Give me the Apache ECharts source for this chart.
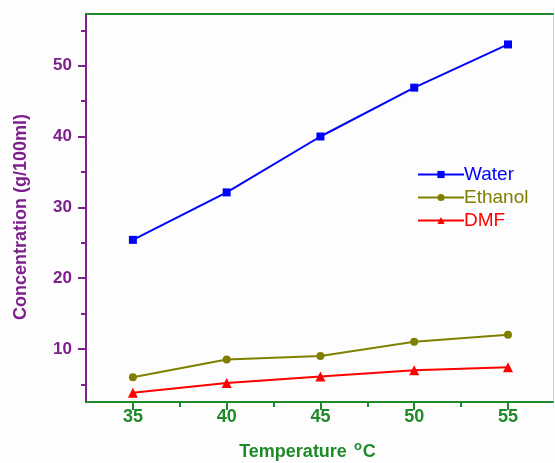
<!DOCTYPE html>
<html><head><meta charset="utf-8">
<script src="https://cdn.jsdelivr.net/npm/echarts@6/dist/echarts.min.js"></script>
<style>html,body{margin:0;padding:0;background:#fdfdfd}#c{width:555px;height:463px}</style>
</head><body><div id="c"></div>
<script>
const temperatures = [35, 40, 45, 50, 55];
const water = [25.4, 32.1, 40, 46.9, 53];
const ethanol = [6.0, 8.5, 9.0, 11.0, 12.0];
const dmf = [3.8, 5.2, 6.1, 7.0, 7.4];
const xMajorTicks = [35, 40, 45, 50, 55];
const xMinorTicks = [37.5, 42.5, 47.5, 52.5];
const yMajorTicks = [10, 20, 30, 40, 50];
const yMinorTicks = [5, 15, 25, 35, 45, 55];

const PURPLE = '#7d1f8c', GREEN = '#1f8a2a';
const FONT = 'Liberation Sans';
const pairs = a => temperatures.map((t, i) => [t, a[i]]);

const chart = echarts.init(document.getElementById('c'), null, {renderer: 'canvas'});
const xBase = {type: 'value', min: 32.5, max: 57.4, position: 'bottom', splitLine: {show: false}};
const yBase = {type: 'value', min: 2.5, max: 57.3, position: 'left', splitLine: {show: false}};
chart.setOption({
  backgroundColor: '#fdfdfd',
  animation: false,
  grid: {left: 86, top: 14, right: 2, bottom: 61, containLabel: false, outerBoundsMode: 'none'},
  xAxis: [
    Object.assign({}, xBase, {
      name: 'Temperature {sup|o}C', nameLocation: 'middle', nameGap: 38,
      nameTextStyle: {color: GREEN, fontFamily: FONT, fontWeight: 'bold', fontSize: 18, padding: [0, 24, 0, 0],
        rich: {sup: {fontSize: 13, fontWeight: 'bold', color: GREEN, fontFamily: FONT, verticalAlign: 'bottom', padding: [0, 1, 12, 2]}}},
      axisLine: {show: true, onZero: false, lineStyle: {color: GREEN, width: 2}},
      axisTick: {show: true, length: 8, inside: false, customValues: xMajorTicks, lineStyle: {color: GREEN, width: 2}},
      axisLabel: {customValues: xMajorTicks, color: GREEN, fontFamily: FONT, fontWeight: 'bold', fontSize: 18, margin: 6}
    }),
    Object.assign({}, xBase, {
      axisLine: {show: false},
      axisTick: {show: true, length: 5, customValues: xMinorTicks, lineStyle: {color: GREEN, width: 2}},
      axisLabel: {show: false}
    }),
    Object.assign({}, xBase, {
      position: 'top',
      axisLine: {show: true, onZero: false, lineStyle: {color: GREEN, width: 2}},
      axisTick: {show: false}, axisLabel: {show: false}
    })
  ],
  yAxis: [
    Object.assign({}, yBase, {
      name: 'Concentration (g/100ml)', nameLocation: 'middle', nameGap: 56,
      nameTextStyle: {color: PURPLE, fontFamily: FONT, fontWeight: 'bold', fontSize: 18, padding: [0, 18, 0, 0]},
      axisLine: {show: true, onZero: false, lineStyle: {color: PURPLE, width: 2}},
      axisTick: {show: true, length: 8, customValues: yMajorTicks, lineStyle: {color: PURPLE, width: 2}},
      axisLabel: {customValues: yMajorTicks, color: PURPLE, fontFamily: FONT, fontWeight: 'bold', fontSize: 17, margin: 14}
    }),
    Object.assign({}, yBase, {
      axisLine: {show: false},
      axisTick: {show: true, length: 5, customValues: yMinorTicks, lineStyle: {color: PURPLE, width: 2}},
      axisLabel: {show: false}
    }),
    Object.assign({}, yBase, {
      position: 'right',
      axisLine: {show: true, onZero: false, lineStyle: {color: '#cfcfcf', width: 1}},
      axisTick: {show: false}, axisLabel: {show: false}
    })
  ],
  legend: {
    orient: 'vertical', left: 412, top: 160, itemWidth: 46, itemHeight: 9, itemGap: 4,
    textStyle: {fontFamily: FONT, fontSize: 19, padding: [0, 0, 0, -5]},
    data: [
      {name: 'Water', textStyle: {color: '#0000ff'}},
      {name: 'Ethanol', textStyle: {color: '#808000'}},
      {name: 'DMF', textStyle: {color: '#ff0000'}}
    ]
  },
  series: [
    {name: 'Water', type: 'line', data: pairs(water), symbol: 'rect', symbolSize: 8,
      color: '#0000ff', lineStyle: {width: 2, color: '#0000ff'}, itemStyle: {color: '#0000ff'}},
    {name: 'Ethanol', type: 'line', data: pairs(ethanol), symbol: 'circle', symbolSize: 8,
      color: '#808000', lineStyle: {width: 2, color: '#808000'}, itemStyle: {color: '#808000'}},
    {name: 'DMF', type: 'line', data: pairs(dmf), symbol: 'triangle', symbolSize: 10,
      color: '#ff0000', lineStyle: {width: 2, color: '#ff0000'}, itemStyle: {color: '#ff0000'}}
  ]
});
</script></body></html>
